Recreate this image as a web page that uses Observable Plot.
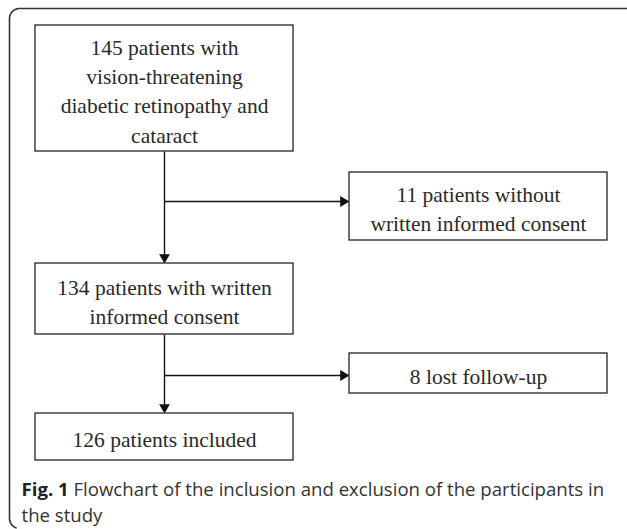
<!DOCTYPE html>
<html>
<head>
<meta charset="utf-8">
<script src="https://cdn.jsdelivr.net/npm/d3@7"></script>
<script src="https://cdn.jsdelivr.net/npm/@observablehq/plot@0.6"></script>
<style>
  html, body { margin: 0; padding: 0; background: #fff; }
  #chart svg { display: block; }
</style>
</head>
<body>
<div id="chart"></div>
<script>
// ---- Data ----
const mainSteps = [
  "145 patients with\nvision-threatening\ndiabetic retinopathy and\ncataract",
  "134 patients with written\ninformed consent",
  "126 patients included"
];
const excludedSteps = [
  "11 patients without\nwritten informed consent",
  "8 lost follow-up"
];
const counts = [145, 134, 126];
const excludedCounts = [11, 8];
const captionLabel = "Fig. 1";
const captionLines = [
  "Flowchart of the inclusion and exclusion of the participants in",
  "the study"
];

// ---- Layout (geometry) ----
const W = 627, H = 529;
const mainX = [35, 293], sideX = [349, 607];
const mainCx = (mainX[0] + mainX[1]) / 2;
const mainY = [[25, 151], [263, 334], [413, 460]];
const sideY = [[172, 240], [353, 393]];
const branchY = [201, 375];

const boxes = [
  ...mainSteps.map((t, i) => ({text: t, x1: mainX[0], x2: mainX[1], y1: mainY[i][0], y2: mainY[i][1]})),
  ...excludedSteps.map((t, i) => ({text: t, x1: sideX[0], x2: sideX[1], y1: sideY[i][0], y2: sideY[i][1]}))
];

// connectors
const links = [];
const heads = [];
const r = 4;
const yOff = Math.sqrt(Math.PI * r * r / (3 * Math.sqrt(3))); // centroid-to-base distance
for (let i = 0; i < mainSteps.length - 1; i++) {
  links.push({x1: mainCx, y1: mainY[i][1], x2: mainCx, y2: mainY[i + 1][0] - 2});
  links.push({x1: mainCx, y1: branchY[i], x2: sideX[0] - 2, y2: branchY[i]});
  heads.push({x: mainCx, y: mainY[i + 1][0] - 2 * yOff, rot: 180});
  heads.push({x: sideX[0] - 2 * yOff, y: branchY[i], rot: 90});
}

// outer frame with rounded left corners
const frame = [];
const rad = 10, fx = 9, fy = 8, fb = 529;
frame.push([W, fy]);
for (let a = 90; a <= 180; a += 10) {
  const t = a * Math.PI / 180;
  frame.push([fx + rad + rad * Math.cos(t), fy + rad - rad * Math.sin(t)]);
}
for (let a = 180; a <= 250; a += 10) {
  const t = a * Math.PI / 180;
  frame.push([fx + rad + rad * Math.cos(t), fb - rad - 1 - rad * Math.sin(t)]);
}

// caption measurement
const capSize = 18.6;
const ctx = document.createElement("canvas").getContext("2d");
ctx.font = `bold ${capSize}px "Open Sans"`;
const labelW = ctx.measureText(captionLabel + " ").width;
const capX = 21;
const capY = [490, 516];

const serif = "'Liberation Serif', 'Times New Roman', serif";
const sans = "'Open Sans', sans-serif";

const chart = Plot.plot({
  width: W,
  height: H,
  margin: 0,
  x: {domain: [0, W], range: [0, W], axis: null},
  y: {domain: [0, H], range: [0, H], axis: null},
  style: {background: "#fff"},
  marks: [
    Plot.line(frame, {x: d => d[0], y: d => d[1], stroke: "#333", strokeWidth: 1.6}),
    Plot.link(links, {x1: "x1", y1: "y1", x2: "x2", y2: "y2", stroke: "#111", strokeWidth: 1.4}),
    Plot.dot(heads, {x: "x", y: "y", symbol: "triangle", r: r, rotate: "rot", fill: "#111", stroke: "none"}),
    Plot.rect(boxes, {x1: "x1", x2: "x2", y1: "y1", y2: "y2", fill: "#fff", stroke: "#333", strokeWidth: 1.4}),
    Plot.text(boxes, {
      x: d => (d.x1 + d.x2) / 2,
      y: d => (d.y1 + d.y2) / 2 + 1,
      text: "text",
      fontFamily: serif,
      fontSize: 21.5,
      lineHeight: 1.36,
      fill: "#2a2a2a"
    }),
    Plot.text([captionLabel], {
      x: capX, y: capY[0], text: d => d, textAnchor: "start",
      fontFamily: sans, fontWeight: "bold", fontSize: capSize, fill: "#222"
    }),
    Plot.text([captionLines[0]], {
      x: capX + labelW, y: capY[0], text: d => d, textAnchor: "start",
      fontFamily: sans, fontSize: capSize, fill: "#333"
    }),
    Plot.text([captionLines[1]], {
      x: capX, y: capY[1], text: d => d, textAnchor: "start",
      fontFamily: sans, fontSize: capSize, fill: "#333"
    })
  ]
});
document.getElementById("chart").appendChild(chart);
</script>
</body>
</html>
